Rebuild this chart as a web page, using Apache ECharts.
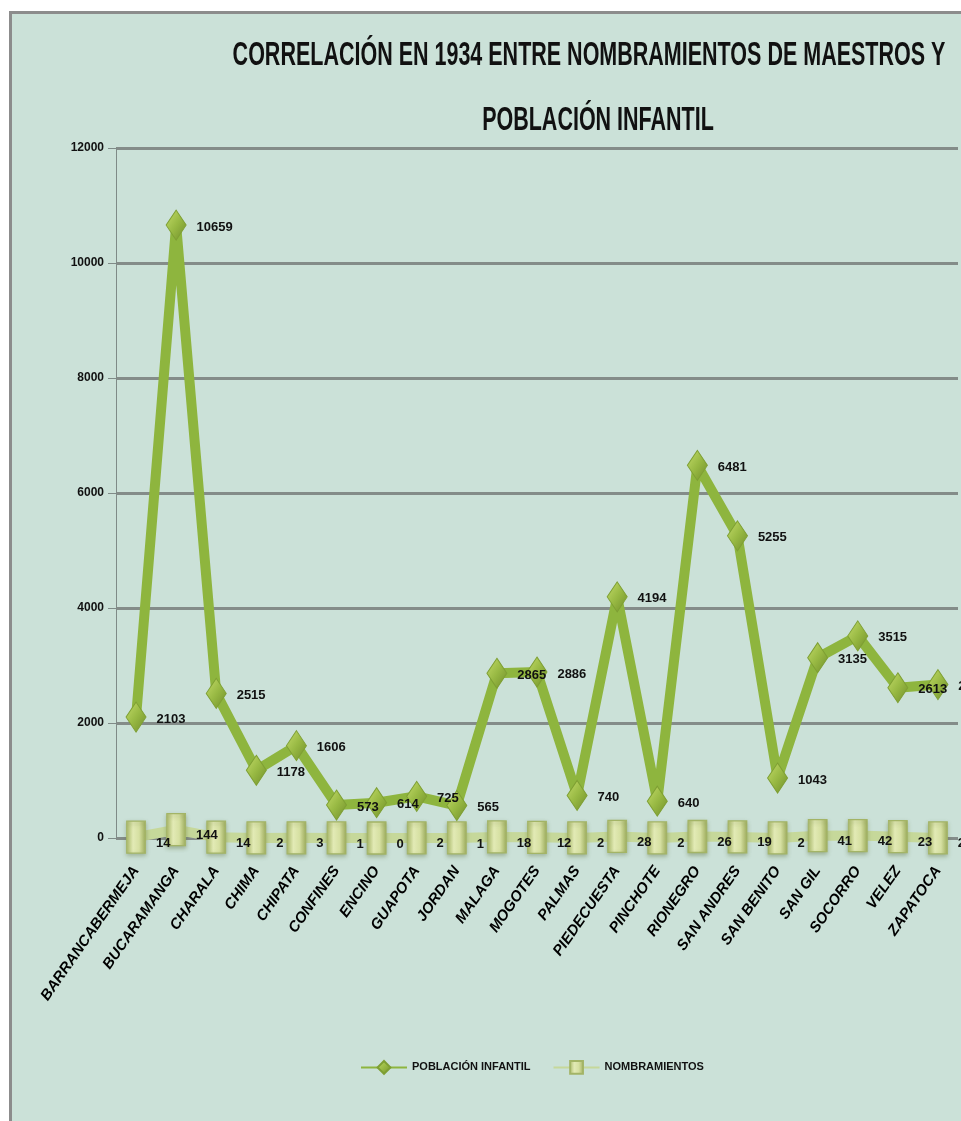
<!DOCTYPE html>
<html>
<head>
<meta charset="utf-8">
<script src="https://cdn.jsdelivr.net/npm/echarts@6/dist/echarts.min.js"></script>
<style>
  html, body { margin: 0; padding: 0; background: #ffffff; }
  #frame {
    position: absolute; left: 9px; top: 11px; width: 952px; height: 1110px;
    border-top: 3px solid #8c8c8c; border-left: 3px solid #8c8c8c;
    background: #cbe1d8;
  }
  #chart { width: 949px; height: 1107px; }
</style>
</head>
<body>
<div id="frame"><div id="chart"></div></div>
<script>
// Municipios (eje de categorías)
const municipios = [
  'BARRANCABERMEJA', 'BUCARAMANGA', 'CHARALA', 'CHIMA', 'CHIPATA', 'CONFINES',
  'ENCINO', 'GUAPOTA', 'JORDAN', 'MALAGA', 'MOGOTES', 'PALMAS', 'PIEDECUESTA',
  'PINCHOTE', 'RIONEGRO', 'SAN ANDRES', 'SAN BENITO', 'SAN GIL', 'SOCORRO',
  'VELEZ', 'ZAPATOCA'
];
// Población infantil por municipio
const poblacionInfantil = [
  2103, 10659, 2515, 1178, 1606, 573, 614, 725, 565, 2865, 2886, 740, 4194,
  640, 6481, 5255, 1043, 3135, 3515, 2613, 2668
];
// Nombramientos de maestros por municipio
const nombramientos = [
  14, 144, 14, 2, 3, 1, 0, 2, 1, 18, 12, 2, 28, 2, 26, 19, 2, 41, 42, 23, 2
];
// Marcas del eje vertical
const yMin = 0, yMax = 12000, yStep = 2000;

const sans = "'Liberation Sans', Arial, sans-serif";

const chart = echarts.init(document.getElementById('chart'));

const diamondFill = new echarts.graphic.LinearGradient(0, 0, 1, 1, [
  { offset: 0, color: '#c4dc6a' },
  { offset: 0.5, color: '#98b943' },
  { offset: 1, color: '#6f8d2a' }
]);
const boxFill = new echarts.graphic.LinearGradient(0, 0, 1, 0, [
  { offset: 0, color: '#a9b868' },
  { offset: 0.35, color: '#e2eab5' },
  { offset: 0.65, color: '#d6e0a2' },
  { offset: 1, color: '#9fae5e' }
]);

const titleFont = 'bold 25px ' + sans;

chart.setOption({
  backgroundColor: '#cbe1d8',
  animation: false,
  graphic: [
    {
      type: 'text', x: 577, y: 42, scaleX: 0.86, scaleY: 1.3,
      style: {
        text: 'CORRELACIÓN EN 1934 ENTRE NOMBRAMIENTOS DE MAESTROS Y',
        font: titleFont, fill: '#111', align: 'center', verticalAlign: 'middle'
      }
    },
    {
      type: 'text', x: 586, y: 107, scaleX: 0.86, scaleY: 1.3,
      style: {
        text: 'POBLACIÓN INFANTIL',
        font: titleFont, fill: '#111', align: 'center', verticalAlign: 'middle'
      }
    }
  ],
  legend: {
    left: 343, top: 1041,
    itemWidth: 46, itemHeight: 16, itemGap: 22,
    textStyle: { fontFamily: sans, fontSize: 11, fontWeight: 'bold', color: '#111' },
    data: ['POBLACIÓN INFANTIL', 'NOMBRAMIENTOS']
  },
  grid: { left: 104, right: 3, top: 134, bottom: 283, containLabel: false },
  xAxis: {
    type: 'category',
    data: municipios,
    boundaryGap: true,
    axisLine: { show: false },
    axisTick: { show: false },
    axisLabel: {
      interval: 0, rotate: 55, margin: 30,
      fontFamily: sans, fontSize: 15, fontWeight: 'bold', fontStyle: 'italic',
      color: '#000'
    }
  },
  yAxis: {
    type: 'value',
    min: yMin, max: yMax, interval: yStep,
    axisLine: { show: true, lineStyle: { color: '#7f8a87', width: 1 } },
    axisTick: { show: true, length: 8, lineStyle: { color: '#7f8a87' } },
    axisLabel: {
      fontFamily: sans, fontSize: 12, fontWeight: 'bold', color: '#111', margin: 12,
      formatter: (v) => String(v)
    },
    splitLine: { show: true, lineStyle: { color: '#848c89', width: 3 } }
  },
  series: [
    {
      name: 'POBLACIÓN INFANTIL',
      type: 'line',
      data: poblacionInfantil,
      z: 3,
      symbol: 'diamond',
      symbolSize: [20, 30],
      lineStyle: { color: '#8eb53e', width: 10 },
      itemStyle: { color: diamondFill, borderColor: '#7e9f33', borderWidth: 1 },
      label: {
        show: true, position: 'right', distance: 10, offset: [0, 2],
        fontFamily: sans, fontSize: 13, fontWeight: 'bold', color: '#111'
      }
    },
    {
      name: 'NOMBRAMIENTOS',
      type: 'line',
      data: nombramientos,
      z: 2,
      symbol: 'rect',
      symbolSize: [19, 32],
      lineStyle: { color: '#c6d89a', width: 10 },
      itemStyle: {
        color: boxFill, borderColor: '#a3b466', borderWidth: 1,
        shadowColor: 'rgba(80,100,40,0.35)', shadowBlur: 4, shadowOffsetY: 2
      },
      label: {
        show: true, position: 'right', distance: 10, offset: [0, 6],
        fontFamily: sans, fontSize: 13, fontWeight: 'bold', color: '#111'
      }
    }
  ]
});
</script>
</body>
</html>
